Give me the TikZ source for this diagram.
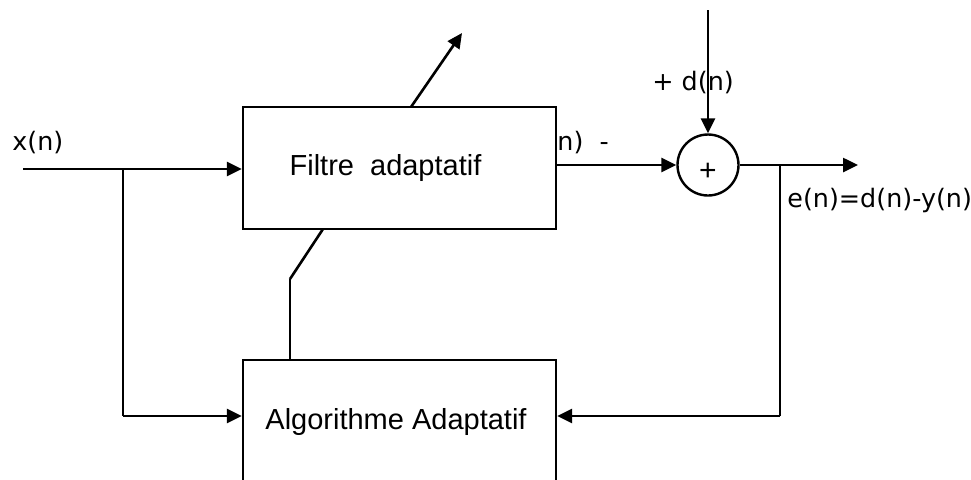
\documentclass[tikz,border=0pt]{standalone}
\usepackage{fontspec}
\setmainfont{Liberation Sans}
\newfontfamily\lblfont{DejaVu Sans}
\usetikzlibrary{arrows.meta}
\begin{document}
\begin{tikzpicture}[x=0.5pt,y=-0.5pt,
  wire/.style={line width=1.3pt},
  thin wire/.style={line width=0.8pt},
  arr/.style={-{Triangle[length=7.5pt,width=7pt]}},
  blockbox/.style={draw,line width=1.2pt,minimum width=156.5pt,inner sep=0pt},
  boxtext/.style={font=\fontsize{14.5}{16}\selectfont,inner sep=0pt},
  lbl/.style={font=\lblfont\fontsize{12.7}{15}\selectfont,inner sep=0pt}]
\useasboundingbox (0,0) rectangle (971,479);
\clip (0,0) rectangle (971,479);
% blocks
\node[blockbox,minimum height=61pt] (box1) at (399.5,168) {};
\node[blockbox,minimum height=70pt] (box2) at (399.5,430) {};
\node[boxtext] (t1) at (385.5,168) {Filtre\ \ adaptatif};
\node[boxtext] (t2) at (396,422) {Algorithme Adaptatif};
\node[draw,circle,line width=1.2pt,minimum size=30.5pt,inner sep=0pt] (sum) at (708,165) {};
\node[boxtext,font=\fontsize{15}{17}\selectfont] (plus) at (708,172) {+};
% coordinates
\coordinate (in) at (23,169);
\coordinate (j1) at (123,169);
\coordinate (fl) at (123,416);
\coordinate (dtop) at (708,10);
\coordinate (j2) at (780,165);
\coordinate (out) at (858,165);
\coordinate (fb) at (780,416);
\coordinate (k) at (290,279);
\coordinate (kb) at (323,229);
\coordinate (a1) at (411,107);
\coordinate (a2) at (462,33);
% connectors
\draw[wire,arr] (in) -- (in -| box1.west);
\draw[thin wire] (j1) -- (fl);
\draw[wire,arr] (fl) -- (fl -| box2.west);
\draw[wire,arr] (sum.west -| box1.east) -- (sum.west);
\draw[wire,arr] (dtop) -- (sum.north);
\draw[wire,arr] (sum.east) -- (out);
\draw[thin wire] (j2) -- (fb);
\draw[wire,arr] (fb) -- (fb -| box2.east);
\draw[thin wire] (k |- box2.north) -- (k);
\draw[wire] (k) -- (kb);
\draw[wire,arr] (a1) -- (a2);
% labels
\node[lbl,anchor=west] (lx) at (12,143) {x(n)};
\node[lbl,anchor=west] (ly) at (557,143) {n)\ \ -};
\node[lbl,anchor=west] (ld) at (652,83) {+ d(n)};
\node[lbl,anchor=west] (le) at (787,200) {e(n)=d(n)-y(n)};
\end{tikzpicture}
\end{document}
